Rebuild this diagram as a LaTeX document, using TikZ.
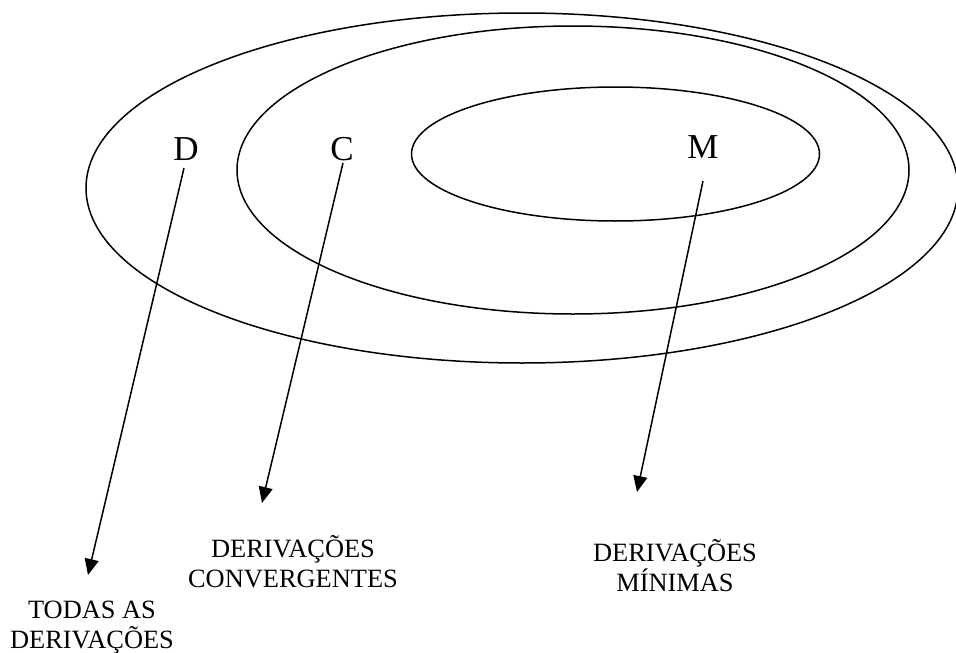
\documentclass[tikz,border=0pt]{standalone}
\usepackage{fontspec}
\setmainfont{Liberation Serif}
\usetikzlibrary{shapes.geometric,arrows.meta}
\begin{document}
\begin{tikzpicture}[x=1pt,y=-1pt,
  ring/.style={draw,line width=1.5pt},
  letter/.style={font=\fontsize{35}{40}\selectfont,inner sep=0pt},
  caption/.style={font=\fontsize{26.4}{30}\selectfont,inner sep=0pt,anchor=base},
  pointer/.style={line width=1.5pt,-{Triangle[length=16pt,width=14pt]}}]
\useasboundingbox (0,0) rectangle (956,653);
\draw[ring] (522,188) ellipse [x radius=436,y radius=175];
\draw[ring] (573,170) ellipse [x radius=336,y radius=144];
\draw[ring] (615.5,154) ellipse [x radius=204,y radius=67];
\node[letter] (D) at (186,149) {D};
\node[letter] (C) at (342,149) {C};
\node[letter] (M) at (703,147) {M};
\coordinate (ds) at (184,168);
\coordinate (cs) at (343,163);
\coordinate (ms) at (703,181);
\coordinate (dt) at (88,575);
\coordinate (ct) at (262,503);
\coordinate (mt) at (637,492);
\draw[pointer] (ds) -- (dt);
\draw[pointer] (cs) -- (ct);
\draw[pointer] (ms) -- (mt);
\node[caption] (t1) at (92,618) {TODAS AS};
\node[caption] (t2) at (92,648) {DERIVAÇÕES};
\node[caption] (c1) at (293,557) {DERIVAÇÕES};
\node[caption] (c2) at (293,587) {CONVERGENTES};
\node[caption] (m1) at (675,561) {DERIVAÇÕES};
\node[caption] (m2) at (675,591) {MÍNIMAS};
\end{tikzpicture}
\end{document}
